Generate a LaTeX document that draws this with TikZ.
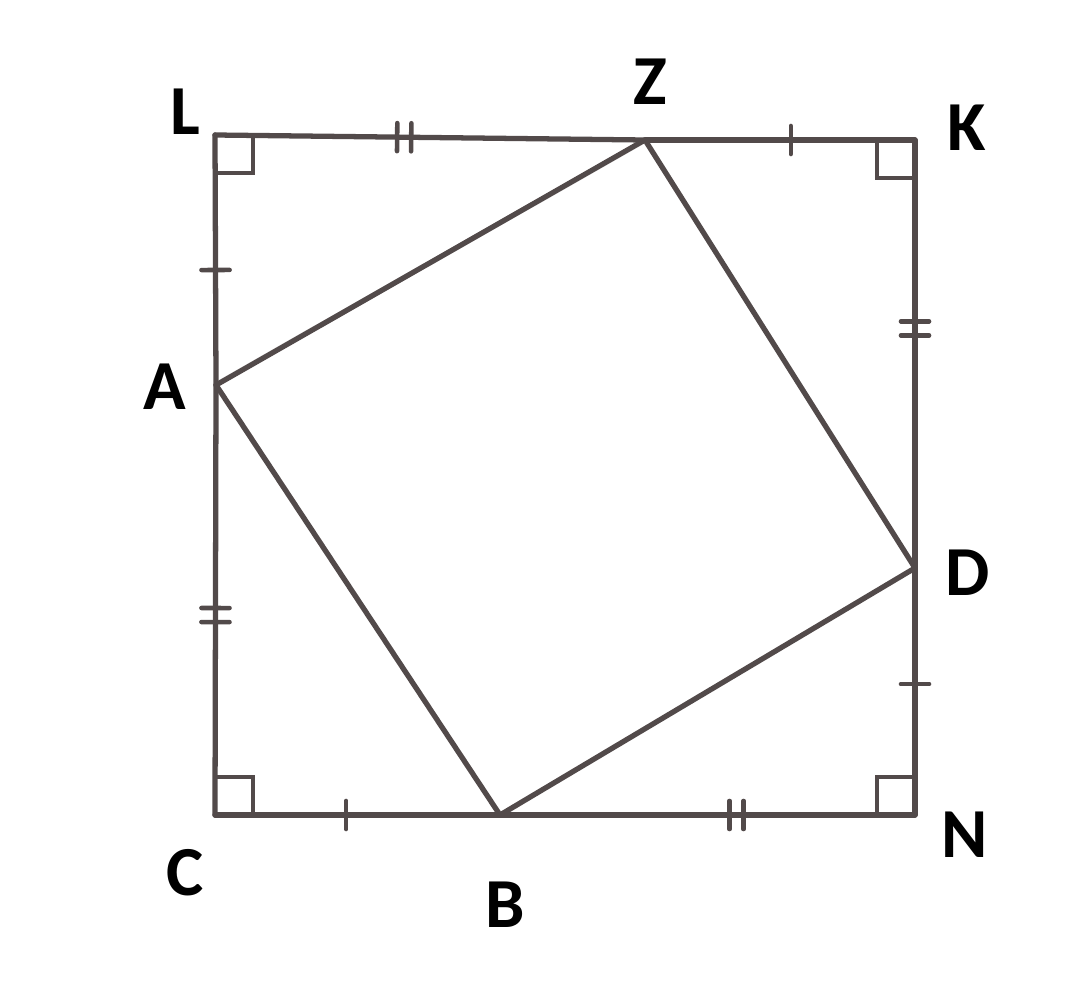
\documentclass[tikz,border=0pt]{standalone}
\usepackage{fontspec}
\setmainfont{Carlito}
\definecolor{pencil}{RGB}{82,74,74}
\usetikzlibrary{decorations.markings}
\tikzset{
  side/.style={draw=pencil, line width=3pt, line cap=round, line join=round},
  tickone/.style={postaction=decorate, decoration={markings,
      mark=at position #1 with {\draw[pencil, line width=2.6pt] (0,-8pt) -- (0,8pt);}}},
  ticktwo/.style={postaction=decorate, decoration={markings,
      mark=at position #1 with {\draw[pencil, line width=2.6pt] (-4pt,-8pt) -- (-4pt,8pt) (4pt,-8pt) -- (4pt,8pt);}}},
  rangle/.style={draw=pencil, line width=2.6pt},
  plabel/.style={font=\fontsize{40}{42}\selectfont\bfseries, text=black, inner sep=0pt},
}
\begin{document}
\begin{tikzpicture}[x=0.02cm, y=-0.02cm]
\useasboundingbox (0,0) rectangle (1083,997);

% outer square
\coordinate (L) at (215,135);
\coordinate (K) at (915,140);
\coordinate (N) at (915,815);
\coordinate (C) at (215,815);

% inner square
\coordinate (Z) at (645,140);
\coordinate (D) at (915,568);
\coordinate (B) at (500,815);
\coordinate (A) at (216,385);

\draw[side, ticktwo=0.44] (L) -- (Z);
\draw[side, tickone=0.54] (Z) -- (K);
\draw[side, ticktwo=0.44] (K) -- (D);
\draw[side, tickone=0.47] (D) -- (N);
\draw[side, ticktwo=0.43] (N) -- (B);
\draw[side, tickone=0.46] (C) -- (B);
\draw[side, ticktwo=0.535] (A) -- (C);
\draw[side, tickone=0.46] (A) -- (L);

\draw[side] (A) -- (Z) -- (D) -- (B) -- cycle;

% right angles
\draw[rangle] (L) ++(0,38) -| ++(38,-38);
\draw[rangle] (K) ++(0,38) -| ++(-38,-38);
\draw[rangle] (N) ++(0,-38) -| ++(-38,38);
\draw[rangle] (C) ++(0,-38) -| ++(38,38);

% labels
\node[plabel] (labL) at (185,112) {L};
\node[plabel] (labZ) at (650,82) {Z};
\node[plabel] (labK) at (967,128) {K};
\node[plabel] (labA) at (165,387) {A};
\node[plabel] (labD) at (968,573) {D};
\node[plabel] (labC) at (185,873) {C};
\node[plabel] (labB) at (505,905) {B};
\node[plabel] (labN) at (965,835) {N};

\end{tikzpicture}
\end{document}
